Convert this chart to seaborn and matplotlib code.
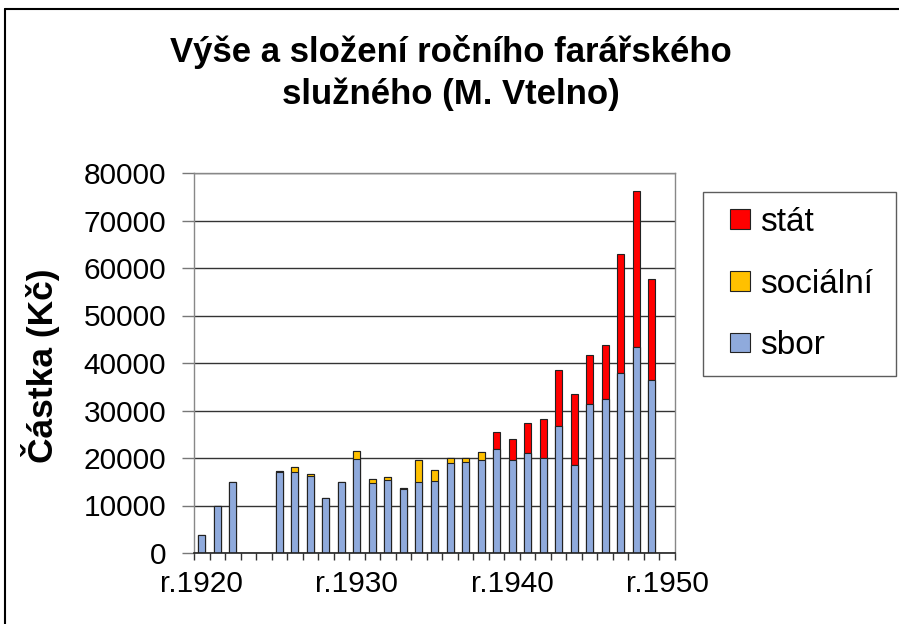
import matplotlib
matplotlib.use('Agg')

import numpy as np
import pandas as pd
import seaborn as sns
import matplotlib.pyplot as plt
from matplotlib.patches import Patch, Rectangle
from matplotlib.lines import Line2D
from matplotlib.legend_handler import HandlerPatch

# data (Kč per year); None = no bar
years = list(range(1920, 1951))
sbor = [3700, 10000, 15000, None, None, 17100, 17100, 16200, 11500, 14900,
        19700, 14700, 15400, 13500, 15000, 15200, 18900, 19100, 19500, 22000,
        19500, 21000, 20100, 26800, 18600, 31400, 32500, 37800, 43400, 36400, None]
socialni = [0, 0, 0, None, None, 200, 1100, 500, 0, 0,
            1800, 800, 700, 200, 4600, 2200, 1000, 900, 1800, 0,
            0, 0, 0, 0, 0, 0, 0, 0, 0, 0, None]
stat = [0, 0, 0, None, None, 0, 0, 0, 0, 0,
        0, 0, 0, 0, 0, 0, 0, 0, 0, 3400,
        4500, 6300, 8100, 11700, 14800, 10200, 11200, 25200, 32900, 21200, None]
tick_years = [1920, 1930, 1940, 1950]

df = pd.DataFrame({'rok': [str(y) for y in years],
                   'sbor': pd.array(sbor, dtype='float'),
                   'socialni': pd.array(socialni, dtype='float'),
                   'stat': pd.array(stat, dtype='float')})
df['lvl_soc'] = df['sbor'] + df['socialni']
df['lvl_stat'] = df['lvl_soc'] + df['stat']

c_sbor = '#8FAADC'
c_soc = '#FFC000'
c_stat = '#FF0000'

sns.set_theme(style='white')
plt.rcParams['font.family'] = ['Liberation Sans', 'DejaVu Sans']
plt.rcParams['text.color'] = 'black'

fig = plt.figure(figsize=(8.99, 6.24), dpi=100)
ax = fig.add_axes([194 / 899, 1 - 553 / 624, 481 / 899, 380 / 624])

order = df['rok'].tolist()
bar_kw = dict(x='rok', order=order, errorbar=None, width=0.45,
              edgecolor='#222222', linewidth=0.8, ax=ax)
sns.barplot(data=df, y='lvl_stat', color=c_stat, saturation=1, **bar_kw)
sns.barplot(data=df, y='lvl_soc', color=c_soc, saturation=1, **bar_kw)
sns.barplot(data=df, y='sbor', color=c_sbor, saturation=1, **bar_kw)

ax.set_xlim(-0.5, len(years) - 0.5)
ax.set_ylim(0, 80000)
ax.set_yticks(np.arange(0, 80001, 10000))
ax.set_yticklabels([str(v) for v in range(0, 80001, 10000)], fontsize=21.5)
ax.yaxis.grid(True, color='#333333', linewidth=1)
ax.set_axisbelow(True)

ax.set_xticks([years.index(y) for y in tick_years])
ax.set_xticklabels([f'r.{y}' for y in tick_years], fontsize=21.5)
ax.set_xticks(np.arange(-0.5, len(years), 1), minor=True)
ax.tick_params(axis='x', which='major', length=0, pad=12, labelcolor='black')
ax.tick_params(axis='x', which='minor', length=5, width=1, color='#333333', direction='out', bottom=True)
ax.tick_params(axis='y', length=9, width=1, color='#777777', direction='out', left=True, pad=11,
               labelcolor='black')
ax.set_xlabel('')
ax.set_ylabel('')

for side in ['left', 'right', 'top']:
    ax.spines[side].set_color('#888888')
    ax.spines[side].set_linewidth(1)
ax.spines['bottom'].set_color('#222222')
ax.spines['bottom'].set_linewidth(1.2)

fig.text(451 / 899, 1 - 73 / 624, 'Výše a složení ročního farářského\nslužného (M. Vtelno)',
         ha='center', va='center', fontsize=25, fontweight='bold', linespacing=1.33, color='black')
fig.text(41 / 899, 1 - 366 / 624, 'Částka (Kč)', rotation=90, ha='center', va='center',
         fontsize=25.5, fontweight='bold', color='black')


def square_right(legend, orig_handle, xdescent, ydescent, width, height, fontsize):
    # small square pushed to the right end of the handle box
    return Rectangle((-xdescent + width - height, -ydescent), height, height)


handles = [Patch(facecolor=c_stat, edgecolor='#222222', linewidth=0.8, label='stát'),
           Patch(facecolor=c_soc, edgecolor='#222222', linewidth=0.8, label='sociální'),
           Patch(facecolor=c_sbor, edgecolor='#222222', linewidth=0.8, label='sbor')]
leg = fig.legend(handles=handles, loc='upper left',
                 bbox_to_anchor=(703 / 899, 1 - 377 / 624, 193 / 899, 185 / 624), mode='expand',
                 fontsize=24, frameon=True, fancybox=False, handlelength=0.95, handleheight=0.52,
                 handletextpad=0.3, labelspacing=0.92, borderpad=0.45, borderaxespad=0,
                 handler_map={Patch: HandlerPatch(patch_func=square_right)})
leg.get_frame().set_edgecolor('#333333')
leg.get_frame().set_linewidth(1)

# chart frame (top and left edge only, as in the source)
fig.add_artist(Line2D([5 / 899, 5 / 899], [0, 1 - 9 / 624], color='black', linewidth=1.5))
fig.add_artist(Line2D([5 / 899, 1], [1 - 9 / 624, 1 - 9 / 624], color='black', linewidth=1.5))

fig.savefig('out.png', dpi=100, facecolor='white')
